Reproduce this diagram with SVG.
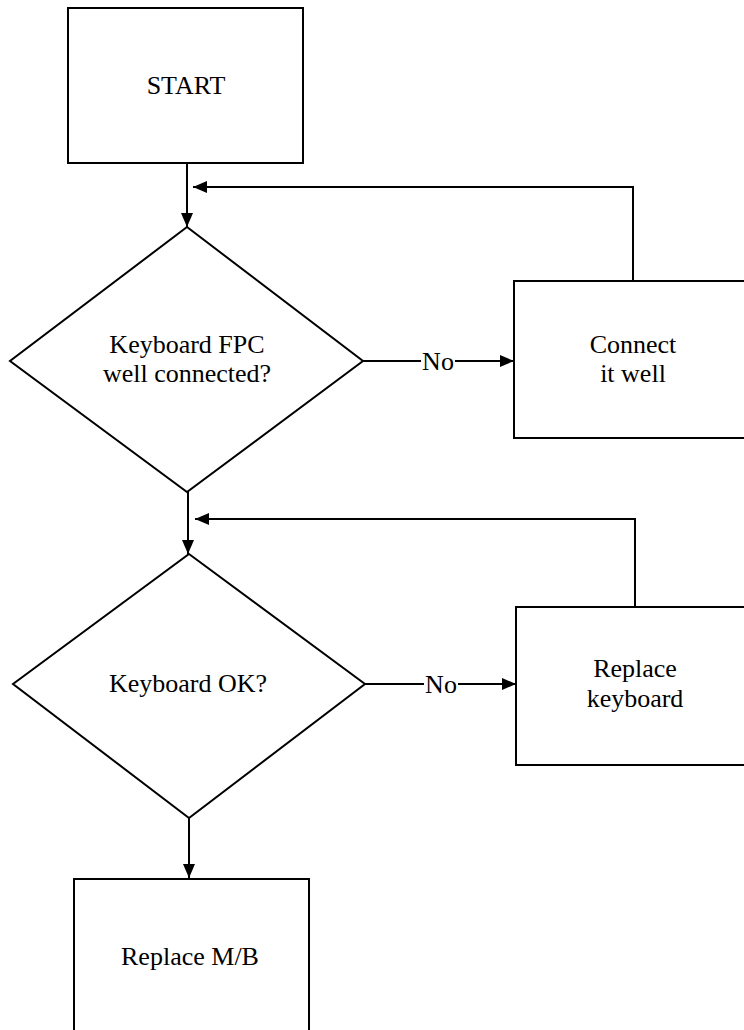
<svg xmlns="http://www.w3.org/2000/svg" width="744" height="1030" viewBox="0 0 744 1030">
<style>
.box{fill:#fff;stroke:#000;stroke-width:2}
.ln{fill:none;stroke:#000;stroke-width:2}
text{font-family:'Liberation Serif','Times New Roman',serif;font-size:26px;fill:#000;text-anchor:middle}
</style>
<defs>
<marker id="ah" viewBox="0 0 14 12" refX="14" refY="6" markerWidth="14" markerHeight="12" markerUnits="userSpaceOnUse" orient="auto">
<path d="M0,0 L14,6 L0,12 Z" fill="#000"/>
</marker>
</defs>
<rect width="744" height="1030" fill="#fff"/>
<g id="connectors">
<path class="ln" d="M187,163 V227" marker-end="url(#ah)"/>
<path class="ln" d="M633,281 V187 H193" marker-end="url(#ah)"/>
<path class="ln" d="M363,361 H514" marker-end="url(#ah)"/>
<path class="ln" d="M188,492 V554" marker-end="url(#ah)"/>
<path class="ln" d="M635,607 V519 H195" marker-end="url(#ah)"/>
<path class="ln" d="M365,684 H516" marker-end="url(#ah)"/>
<path class="ln" d="M189,818 V878" marker-end="url(#ah)"/>
<rect x="421" y="348" width="34" height="26" fill="#fff"/>
<text x="438" y="370">No</text>
<rect x="424" y="671" width="34" height="26" fill="#fff"/>
<text x="441" y="693">No</text>
</g>
<g id="start">
<rect class="box" x="68" y="8" width="235" height="155"/>
<text x="186" y="94">START</text>
</g>
<g id="fpc">
<path class="box" d="M187,227 L363,361 L187,492 L10,361 Z"/>
<text x="187" y="353">Keyboard FPC</text>
<text x="187" y="382">well connected?</text>
</g>
<g id="connect">
<rect class="box" x="514" y="281" width="250" height="157"/>
<text x="633" y="353">Connect</text>
<text x="633" y="382">it well</text>
</g>
<g id="kbok">
<path class="box" d="M189,554 L365,684 L189,818 L13,684 Z"/>
<text x="188" y="692">Keyboard OK?</text>
</g>
<g id="replacekb">
<rect class="box" x="516" y="607" width="250" height="158"/>
<text x="635" y="677">Replace</text>
<text x="635" y="707">keyboard</text>
</g>
<g id="replacemb">
<rect class="box" x="74" y="879" width="235" height="170"/>
<text x="190" y="965">Replace M/B</text>
</g>
</svg>
